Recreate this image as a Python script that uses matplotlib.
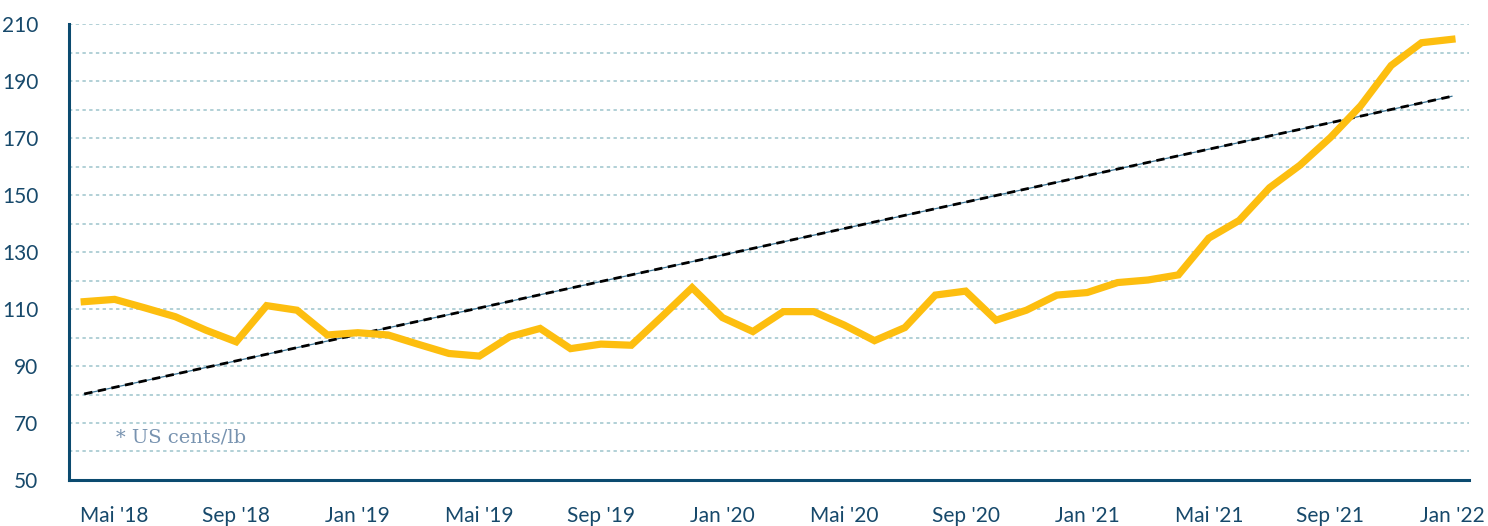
import numpy as np
import matplotlib
matplotlib.use('Agg')
from matplotlib import pyplot as plt

# monthly price, Apr 2018 .. Jan 2022 (US cents/lb)
prices = [112.6, 113.4, 110.4, 107.3, 102.6, 98.5, 111.2, 109.6, 100.9,
          101.7, 100.9, 97.6, 94.4, 93.5, 100.3, 103.2, 96.1, 97.7, 97.3, 107.3, 117.5,
          107.0, 102.1, 109.1, 109.1, 104.4, 98.9, 103.5, 114.9, 116.3, 106.1, 109.6, 114.9,
          115.8, 119.3, 120.2, 122.0, 134.9, 141.1, 152.6, 160.5, 170.2, 181.4, 195.5, 203.5,
          204.7]
trend_ends = [80.2, 184.7]
tick_labels = ["Mai '18", "Sep '18", "Jan '19", "Mai '19", "Sep '19", "Jan '20",
               "Mai '20", "Sep '20", "Jan '21", "Mai '21", "Sep '21", "Jan '22"]
y_ticks = [50, 70, 90, 110, 130, 150, 170, 190, 210]
note = '* US cents/lb'

navy = '#17496b'
plt.rcParams['font.family'] = ['Lato', 'DejaVu Sans']

fig = plt.figure(figsize=(14.88, 5.26), dpi=100)
ax = fig.add_axes([0.0464, 0.0875, 0.9406, 0.8665])

x = np.arange(len(prices))

# dotted grid every 10
for g in range(60, 211, 10):
    ax.axhline(g, color='#9cc4cb', lw=1.1, ls=(0, (2.2, 2.2)), zorder=1)

# trend line: thin blue under black dashes
tx = [x[0], x[-1]]
ax.plot(tx, trend_ends, color='#3b7596', lw=0.9, zorder=2)
ax.plot(tx, trend_ends, color='black', lw=2.0, ls=(0, (3, 2)), zorder=3)

ax.plot(x, prices, color='#fdbe0f', lw=5.2, solid_joinstyle='miter', zorder=4)

ax.text(1.05, 64.8, note, color='#7893b0', fontsize=14, va='center', ha='left',
        family=['DejaVu Serif'])

ax.set_xlim(-0.5, 45.55)
ax.set_ylim(50, 210)
ax.set_xticks(x[1::4])
ax.set_xticklabels(tick_labels)
ax.set_yticks(y_ticks)
ax.tick_params(axis='both', length=0, labelsize=15, labelcolor=navy)
ax.tick_params(axis='x', pad=19)
ax.tick_params(axis='y', pad=22)

for s in ['top', 'right']:
    ax.spines[s].set_visible(False)
for s in ['left', 'bottom']:
    ax.spines[s].set_color('#0b4a6f')
    ax.spines[s].set_linewidth(2.2)

plt.savefig('out.png', dpi=100)
